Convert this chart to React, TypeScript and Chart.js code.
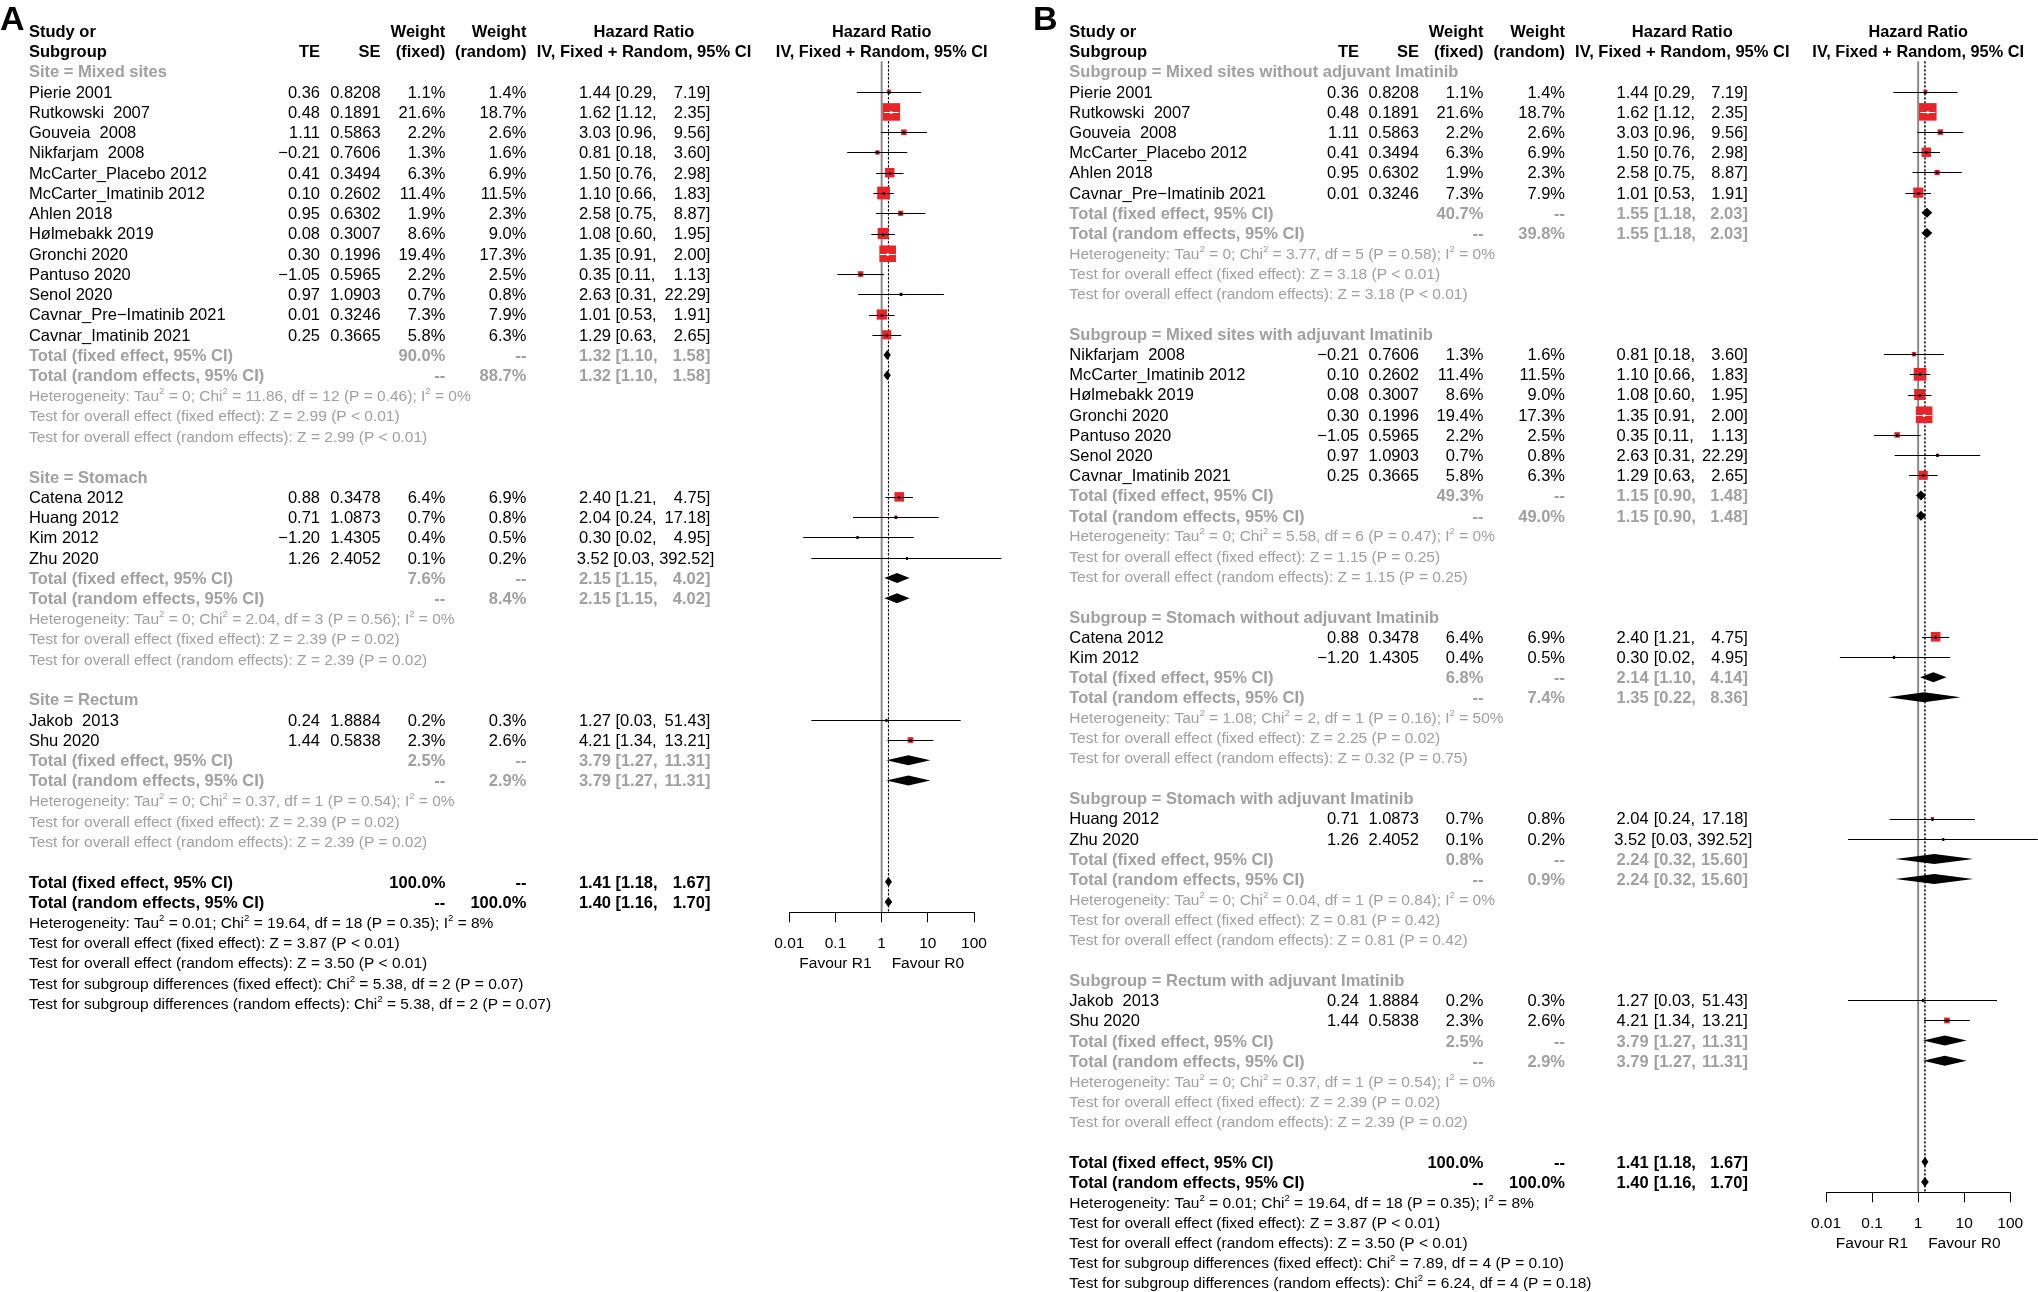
import React, { useEffect, useRef } from "react";
import { Chart, registerables } from "chart.js";

Chart.register(...registerables);

// ------------------------------------------------------------------ data
const STUDY_NAMES = [
  "Pierie 2001", "Rutkowski  2007", "Gouveia  2008", "Nikfarjam  2008",
  "McCarter_Placebo 2012", "McCarter_Imatinib 2012", "Ahlen 2018", "Hølmebakk 2019",
  "Gronchi 2020", "Pantuso 2020", "Senol 2020", "Cavnar_Pre\u2212Imatinib 2021",
  "Cavnar_Imatinib 2021", "Catena 2012", "Huang 2012", "Kim 2012", "Zhu 2020",
  "Jakob  2013", "Shu 2020",
];
const STUDY_TE = [0.36, 0.48, 1.11, -0.21, 0.41, 0.10, 0.95, 0.08, 0.30, -1.05, 0.97, 0.01, 0.25, 0.88, 0.71, -1.20, 1.26, 0.24, 1.44];
const STUDY_SE = [0.8208, 0.1891, 0.5863, 0.7606, 0.3494, 0.2602, 0.6302, 0.3007, 0.1996, 0.5965, 1.0903, 0.3246, 0.3665, 0.3478, 1.0873, 1.4305, 2.4052, 1.8884, 0.5838];
const STUDY_W_FIXED = [1.1, 21.6, 2.2, 1.3, 6.3, 11.4, 1.9, 8.6, 19.4, 2.2, 0.7, 7.3, 5.8, 6.4, 0.7, 0.4, 0.1, 0.2, 2.3];
const STUDY_W_RANDOM = [1.4, 18.7, 2.6, 1.6, 6.9, 11.5, 2.3, 9.0, 17.3, 2.5, 0.8, 7.9, 6.3, 6.9, 0.8, 0.5, 0.2, 0.3, 2.6];
const STUDY_HR = [1.44, 1.62, 3.03, 0.81, 1.50, 1.10, 2.58, 1.08, 1.35, 0.35, 2.63, 1.01, 1.29, 2.40, 2.04, 0.30, 3.52, 1.27, 4.21];
const STUDY_LO = [0.29, 1.12, 0.96, 0.18, 0.76, 0.66, 0.75, 0.60, 0.91, 0.11, 0.31, 0.53, 0.63, 1.21, 0.24, 0.02, 0.03, 0.03, 1.34];
const STUDY_HI = [7.19, 2.35, 9.56, 3.60, 2.98, 1.83, 8.87, 1.95, 2.00, 1.13, 22.29, 1.91, 2.65, 4.75, 17.18, 4.95, 392.52, 51.43, 13.21];

// Panel A subgroups (by site)
const A_LABELS = ["Site = Mixed sites", "Site = Stomach", "Site = Rectum"];
const A_MEMBERS = [[0, 1, 2, 3, 4, 5, 6, 7, 8, 9, 10, 11, 12], [13, 14, 15, 16], [17, 18]];
const A_W_FIXED = [90.0, 7.6, 2.5];
const A_W_RANDOM = [88.7, 8.4, 2.9];
const A_HR_FIXED = [1.32, 2.15, 3.79];
const A_LO_FIXED = [1.10, 1.15, 1.27];
const A_HI_FIXED = [1.58, 4.02, 11.31];
const A_HR_RANDOM = [1.32, 2.15, 3.79];
const A_LO_RANDOM = [1.10, 1.15, 1.27];
const A_HI_RANDOM = [1.58, 4.02, 11.31];
const A_HET = [
  "Tau^2 = 0; Chi^2 = 11.86, df = 12 (P = 0.46); I^2 = 0%",
  "Tau^2 = 0; Chi^2 = 2.04, df = 3 (P = 0.56); I^2 = 0%",
  "Tau^2 = 0; Chi^2 = 0.37, df = 1 (P = 0.54); I^2 = 0%",
];
const A_Z_FIXED = ["Z = 2.99 (P < 0.01)", "Z = 2.39 (P = 0.02)", "Z = 2.39 (P = 0.02)"];
const A_Z_RANDOM = ["Z = 2.99 (P < 0.01)", "Z = 2.39 (P = 0.02)", "Z = 2.39 (P = 0.02)"];
const A_SUBDIFF_FIXED = "Chi^2 = 5.38, df = 2 (P = 0.07)";
const A_SUBDIFF_RANDOM = "Chi^2 = 5.38, df = 2 (P = 0.07)";

// Panel B subgroups (site x adjuvant imatinib)
const B_LABELS = [
  "Subgroup = Mixed sites without adjuvant Imatinib",
  "Subgroup = Mixed sites with adjuvant Imatinib",
  "Subgroup = Stomach without adjuvant Imatinib",
  "Subgroup = Stomach with adjuvant Imatinib",
  "Subgroup = Rectum with adjuvant Imatinib",
];
const B_MEMBERS = [[0, 1, 2, 4, 6, 11], [3, 5, 7, 8, 9, 10, 12], [13, 15], [14, 16], [17, 18]];
const B_W_FIXED = [40.7, 49.3, 6.8, 0.8, 2.5];
const B_W_RANDOM = [39.8, 49.0, 7.4, 0.9, 2.9];
const B_HR_FIXED = [1.55, 1.15, 2.14, 2.24, 3.79];
const B_LO_FIXED = [1.18, 0.90, 1.10, 0.32, 1.27];
const B_HI_FIXED = [2.03, 1.48, 4.14, 15.60, 11.31];
const B_HR_RANDOM = [1.55, 1.15, 1.35, 2.24, 3.79];
const B_LO_RANDOM = [1.18, 0.90, 0.22, 0.32, 1.27];
const B_HI_RANDOM = [2.03, 1.48, 8.36, 15.60, 11.31];
const B_HET = [
  "Tau^2 = 0; Chi^2 = 3.77, df = 5 (P = 0.58); I^2 = 0%",
  "Tau^2 = 0; Chi^2 = 5.58, df = 6 (P = 0.47); I^2 = 0%",
  "Tau^2 = 1.08; Chi^2 = 2, df = 1 (P = 0.16); I^2 = 50%",
  "Tau^2 = 0; Chi^2 = 0.04, df = 1 (P = 0.84); I^2 = 0%",
  "Tau^2 = 0; Chi^2 = 0.37, df = 1 (P = 0.54); I^2 = 0%",
];
const B_Z_FIXED = ["Z = 3.18 (P < 0.01)", "Z = 1.15 (P = 0.25)", "Z = 2.25 (P = 0.02)", "Z = 0.81 (P = 0.42)", "Z = 2.39 (P = 0.02)"];
const B_Z_RANDOM = ["Z = 3.18 (P < 0.01)", "Z = 1.15 (P = 0.25)", "Z = 0.32 (P = 0.75)", "Z = 0.81 (P = 0.42)", "Z = 2.39 (P = 0.02)"];
const B_SUBDIFF_FIXED = "Chi^2 = 7.89, df = 4 (P = 0.10)";
const B_SUBDIFF_RANDOM = "Chi^2 = 6.24, df = 4 (P = 0.18)";

// Overall
const OVERALL_W = 100.0;
const OVERALL_HR_FIXED = 1.41;
const OVERALL_LO_FIXED = 1.18;
const OVERALL_HI_FIXED = 1.67;
const OVERALL_HR_RANDOM = 1.40;
const OVERALL_LO_RANDOM = 1.16;
const OVERALL_HI_RANDOM = 1.70;
const OVERALL_HET = "Tau^2 = 0.01; Chi^2 = 19.64, df = 18 (P = 0.35); I^2 = 8%";
const OVERALL_Z_FIXED = "Z = 3.87 (P < 0.01)";
const OVERALL_Z_RANDOM = "Z = 3.50 (P < 0.01)";

// Axis
const AXIS_TICKS = [0.01, 0.1, 1, 10, 100];
const AXIS_TICK_LABELS = ["0.01", "0.1", "1", "10", "100"];
const LABEL_LEFT = "Favour R1";
const LABEL_RIGHT = "Favour R0";

// ------------------------------------------------------------------ layout / style
const PAGE_H = 1292;
const CANVAS_W = 1019;
const FAMILY = '"Liberation Sans", Arial, Helvetica, sans-serif';
const BODY = 16.5;
const SMALL = 15.5;
const PLOT_HDR = 16.3;
const GRAY = "#a0a0a0";
const RED = "rgb(232,36,40)";
const SQ_K = 3.77;
const DIAMOND_H = 5;

type Panel = {
  letter: string; off: number; letterX: number;
  row0: number; pitch: number; axisY: number; plotL: number; plotR: number;
  cLabel: number; cTE: number; cSE: number; cWF: number; cWR: number;
  cEst: number; cLo: number; cHi: number; cHdr: number;
  labels: string[]; members: number[][];
  wF: number[]; wR: number[];
  hrF: number[]; loF: number[]; hiF: number[];
  hrR: number[]; loR: number[]; hiR: number[];
  het: string[]; zF: string[]; zR: string[];
  subF: string; subR: string;
};

const PANEL_A: Panel = {
  letter: "A", off: 0, letterX: 0,
  row0: 30.9, pitch: 20.26, axisY: 912.3, plotL: 789.3, plotR: 974.0,
  cLabel: 28.9, cTE: 320, cSE: 380.6, cWF: 445.3, cWR: 526.4,
  cEst: 611, cLo: 615.4, cHi: 710.4, cHdr: 644,
  labels: A_LABELS, members: A_MEMBERS, wF: A_W_FIXED, wR: A_W_RANDOM,
  hrF: A_HR_FIXED, loF: A_LO_FIXED, hiF: A_HI_FIXED,
  hrR: A_HR_RANDOM, loR: A_LO_RANDOM, hiR: A_HI_RANDOM,
  het: A_HET, zF: A_Z_FIXED, zR: A_Z_RANDOM, subF: A_SUBDIFF_FIXED, subR: A_SUBDIFF_RANDOM,
};

const PANEL_B: Panel = {
  letter: "B", off: 1019, letterX: 1033,
  row0: 31.1, pitch: 20.19, axisY: 1192.3, plotL: 1826.0, plotR: 2010.3,
  cLabel: 1069.3, cTE: 1359, cSE: 1418.9, cWF: 1483.4, cWR: 1565,
  cEst: 1648.6, cLo: 1653.7, cHi: 1747.9, cHdr: 1682.3,
  labels: B_LABELS, members: B_MEMBERS, wF: B_W_FIXED, wR: B_W_RANDOM,
  hrF: B_HR_FIXED, loF: B_LO_FIXED, hiF: B_HI_FIXED,
  hrR: B_HR_RANDOM, loR: B_LO_RANDOM, hiR: B_HI_RANDOM,
  het: B_HET, zF: B_Z_FIXED, zR: B_Z_RANDOM, subF: B_SUBDIFF_FIXED, subR: B_SUBDIFF_RANDOM,
};

// ------------------------------------------------------------------ helpers
const font = (size: number, bold = false) => `${bold ? "bold " : ""}${size}px ${FAMILY}`;
const f2 = (v: number) => v.toFixed(2).replace("-", "\u2212");
const f4 = (v: number) => v.toFixed(4);
const fw = (v: number) => v.toFixed(1) + "%";

type Row = { kind: string; r: number; g?: number; s?: number };

function buildRows(p: Panel): Row[] {
  const rows: Row[] = [];
  let r = 2;
  p.members.forEach((m, g) => {
    rows.push({ kind: "label", r: r++, g });
    m.forEach((s) => rows.push({ kind: "study", r: r++, s }));
    rows.push({ kind: "totF", r: r++, g });
    rows.push({ kind: "totR", r: r++, g });
    rows.push({ kind: "het", r: r++, g });
    rows.push({ kind: "zF", r: r++, g });
    rows.push({ kind: "zR", r: r++, g });
    r++;
  });
  ["oF", "oR", "oHet", "oZF", "oZR", "subF", "subR"].forEach((k) => rows.push({ kind: k, r: r++ }));
  return rows;
}

function txt(ctx: CanvasRenderingContext2D, s: string, x: number, y: number, align: CanvasTextAlign, size: number, bold: boolean, color: string) {
  ctx.font = font(size, bold);
  ctx.fillStyle = color;
  ctx.textAlign = align;
  ctx.textBaseline = "alphabetic";
  ctx.fillText(s, x, y + size * 0.358);
}

function rich(ctx: CanvasRenderingContext2D, s: string, x: number, y: number, size: number, color: string) {
  const parts = s.split("^2");
  let cx = x;
  const base = y + size * 0.358;
  ctx.fillStyle = color;
  ctx.textAlign = "left";
  ctx.textBaseline = "alphabetic";
  parts.forEach((p, i) => {
    ctx.font = font(size);
    ctx.fillText(p, cx, base);
    cx += ctx.measureText(p).width;
    if (i < parts.length - 1) {
      ctx.font = font(size * 0.62);
      ctx.fillText("2", cx, base - size * 0.45);
      cx += ctx.measureText("2").width;
    }
  });
}

function makeChart(canvas: HTMLCanvasElement, p: Panel) {
  const rows = buildRows(p);
  const studyRows = rows.filter((r) => r.kind === "study");
  const X_AXIS_H = 60;

  const forest = {
    id: "forest",
    beforeDatasetsDraw(chart: any) {
      const ctx: CanvasRenderingContext2D = chart.ctx;
      const x = chart.scales.x, y = chart.scales.y;
      const top = y.getPixelForValue(1.5);
      const bot = y.getPixelForValue(y.max);
      ctx.save();
      ctx.strokeStyle = "#8a8a8a";
      ctx.lineWidth = 2;
      ctx.beginPath();
      const x1 = x.getPixelForValue(1);
      ctx.moveTo(x1, top);
      ctx.lineTo(x1, bot);
      ctx.stroke();
      ctx.strokeStyle = "#000";
      ctx.lineWidth = 1;
      ctx.setLineDash([2, 2]);
      [OVERALL_HR_FIXED, OVERALL_HR_RANDOM].forEach((v) => {
        const xv = x.getPixelForValue(v);
        ctx.beginPath();
        ctx.moveTo(xv, top);
        ctx.lineTo(xv, bot);
        ctx.stroke();
      });
      ctx.restore();
    },
    afterDatasetsDraw(chart: any) {
      const ctx: CanvasRenderingContext2D = chart.ctx;
      const x = chart.scales.x, y = chart.scales.y;
      ctx.save();
      studyRows.forEach(({ r, s }: any) => {
        const yy = Math.round(y.getPixelForValue(r)) + 0.5;
        const xl = x.getPixelForValue(STUDY_LO[s]);
        const xh = x.getPixelForValue(STUDY_HI[s]);
        const xe = x.getPixelForValue(STUDY_HR[s]);
        const side = SQ_K * Math.sqrt(STUDY_W_FIXED[s]);
        const inside = xh - xl <= side;
        const col = inside ? "#fff" : "#000";
        ctx.strokeStyle = col;
        ctx.lineWidth = 1;
        ctx.beginPath();
        ctx.moveTo(xl, yy);
        ctx.lineTo(xh, yy);
        ctx.stroke();
        ctx.fillStyle = col;
        ctx.fillRect(xe - 1, yy - 1.5, 2, 3);
      });
      const diamond = (r: number, est: number, lo: number, hi: number) => {
        const yy = y.getPixelForValue(r);
        ctx.fillStyle = "#000";
        ctx.beginPath();
        ctx.moveTo(x.getPixelForValue(lo), yy);
        ctx.lineTo(x.getPixelForValue(est), yy - DIAMOND_H);
        ctx.lineTo(x.getPixelForValue(hi), yy);
        ctx.lineTo(x.getPixelForValue(est), yy + DIAMOND_H);
        ctx.closePath();
        ctx.fill();
      };
      rows.forEach((row: any) => {
        if (row.kind === "totF") diamond(row.r, p.hrF[row.g], p.loF[row.g], p.hiF[row.g]);
        if (row.kind === "totR") diamond(row.r, p.hrR[row.g], p.loR[row.g], p.hiR[row.g]);
        if (row.kind === "oF") diamond(row.r, OVERALL_HR_FIXED, OVERALL_LO_FIXED, OVERALL_HI_FIXED);
        if (row.kind === "oR") diamond(row.r, OVERALL_HR_RANDOM, OVERALL_LO_RANDOM, OVERALL_HI_RANDOM);
      });
      ctx.restore();
    },
    afterDraw(chart: any) {
      const ctx: CanvasRenderingContext2D = chart.ctx;
      const x = chart.scales.x, y = chart.scales.y;
      const o = p.off;
      const ry = (r: number) => y.getPixelForValue(r);
      ctx.save();
      ctx.font = font(34, true);
      ctx.fillStyle = "#000";
      ctx.textAlign = "left";
      ctx.textBaseline = "alphabetic";
      ctx.fillText(p.letter, p.letterX - o, 30);

      const h0 = ry(0), h1 = ry(1);
      txt(ctx, "Study or", p.cLabel - o, h0, "left", BODY, true, "#000");
      txt(ctx, "Subgroup", p.cLabel - o, h1, "left", BODY, true, "#000");
      txt(ctx, "TE", p.cTE - o, h1, "right", BODY, true, "#000");
      txt(ctx, "SE", p.cSE - o, h1, "right", BODY, true, "#000");
      txt(ctx, "Weight", p.cWF - o, h0, "right", BODY, true, "#000");
      txt(ctx, "(fixed)", p.cWF - o, h1, "right", BODY, true, "#000");
      txt(ctx, "Weight", p.cWR - o, h0, "right", BODY, true, "#000");
      txt(ctx, "(random)", p.cWR - o, h1, "right", BODY, true, "#000");
      txt(ctx, "Hazard Ratio", p.cHdr - o, h0, "center", BODY, true, "#000");
      txt(ctx, "IV, Fixed + Random, 95% CI", p.cHdr - o, h1, "center", BODY, true, "#000");
      const xc = x.getPixelForValue(1);
      txt(ctx, "Hazard Ratio", xc, h0, "center", PLOT_HDR, true, "#000");
      txt(ctx, "IV, Fixed + Random, 95% CI", xc, h1, "center", PLOT_HDR, true, "#000");

      const ci = (yy: number, est: number, lo: number, hi: number, bold: boolean, color: string) => {
        ctx.font = font(BODY, bold);
        const loS = "[" + f2(lo) + ",";
        const hiS = f2(hi) + "]";
        const loEnd = p.cLo - o + ctx.measureText(loS).width;
        const hiStart = p.cHi - o - ctx.measureText(hiS).width;
        const gap = ctx.measureText(" ").width;
        const over = Math.max(0, loEnd + gap - hiStart);
        txt(ctx, f2(est), p.cEst - o - over * 0.35, yy, "right", BODY, bold, color);
        txt(ctx, loS, p.cLo - o - over * 0.35, yy, "left", BODY, bold, color);
        txt(ctx, hiS, p.cHi - o + over * 0.65, yy, "right", BODY, bold, color);
      };

      rows.forEach((row: any) => {
        const yy = ry(row.r);
        const g = row.g;
        const L = p.cLabel - o;
        switch (row.kind) {
          case "label":
            txt(ctx, p.labels[g], L, yy, "left", BODY, true, GRAY);
            break;
          case "study": {
            const s = row.s;
            txt(ctx, STUDY_NAMES[s], L, yy, "left", BODY, false, "#000");
            txt(ctx, f2(STUDY_TE[s]), p.cTE - o, yy, "right", BODY, false, "#000");
            txt(ctx, f4(STUDY_SE[s]), p.cSE - o, yy, "right", BODY, false, "#000");
            txt(ctx, fw(STUDY_W_FIXED[s]), p.cWF - o, yy, "right", BODY, false, "#000");
            txt(ctx, fw(STUDY_W_RANDOM[s]), p.cWR - o, yy, "right", BODY, false, "#000");
            ci(yy, STUDY_HR[s], STUDY_LO[s], STUDY_HI[s], false, "#000");
            break;
          }
          case "totF":
            txt(ctx, "Total (fixed effect, 95% CI)", L, yy, "left", BODY, true, GRAY);
            txt(ctx, fw(p.wF[g]), p.cWF - o, yy, "right", BODY, true, GRAY);
            txt(ctx, "--", p.cWR - o, yy, "right", BODY, true, GRAY);
            ci(yy, p.hrF[g], p.loF[g], p.hiF[g], true, GRAY);
            break;
          case "totR":
            txt(ctx, "Total (random effects, 95% CI)", L, yy, "left", BODY, true, GRAY);
            txt(ctx, "--", p.cWF - o, yy, "right", BODY, true, GRAY);
            txt(ctx, fw(p.wR[g]), p.cWR - o, yy, "right", BODY, true, GRAY);
            ci(yy, p.hrR[g], p.loR[g], p.hiR[g], true, GRAY);
            break;
          case "het":
            rich(ctx, "Heterogeneity: " + p.het[g], L, yy, SMALL, GRAY);
            break;
          case "zF":
            rich(ctx, "Test for overall effect (fixed effect): " + p.zF[g], L, yy, SMALL, GRAY);
            break;
          case "zR":
            rich(ctx, "Test for overall effect (random effects): " + p.zR[g], L, yy, SMALL, GRAY);
            break;
          case "oF":
            txt(ctx, "Total (fixed effect, 95% CI)", L, yy, "left", BODY, true, "#000");
            txt(ctx, fw(OVERALL_W), p.cWF - o, yy, "right", BODY, true, "#000");
            txt(ctx, "--", p.cWR - o, yy, "right", BODY, true, "#000");
            ci(yy, OVERALL_HR_FIXED, OVERALL_LO_FIXED, OVERALL_HI_FIXED, true, "#000");
            break;
          case "oR":
            txt(ctx, "Total (random effects, 95% CI)", L, yy, "left", BODY, true, "#000");
            txt(ctx, "--", p.cWF - o, yy, "right", BODY, true, "#000");
            txt(ctx, fw(OVERALL_W), p.cWR - o, yy, "right", BODY, true, "#000");
            ci(yy, OVERALL_HR_RANDOM, OVERALL_LO_RANDOM, OVERALL_HI_RANDOM, true, "#000");
            break;
          case "oHet":
            rich(ctx, "Heterogeneity: " + OVERALL_HET, L, yy, SMALL, "#000");
            break;
          case "oZF":
            rich(ctx, "Test for overall effect (fixed effect): " + OVERALL_Z_FIXED, L, yy, SMALL, "#000");
            break;
          case "oZR":
            rich(ctx, "Test for overall effect (random effects): " + OVERALL_Z_RANDOM, L, yy, SMALL, "#000");
            break;
          case "subF":
            rich(ctx, "Test for subgroup differences (fixed effect): " + p.subF, L, yy, SMALL, "#000");
            break;
          case "subR":
            rich(ctx, "Test for subgroup differences (random effects): " + p.subR, L, yy, SMALL, "#000");
            break;
        }
      });

      const fy = p.axisY + 50;
      txt(ctx, LABEL_LEFT, xc - 10, fy, "right", SMALL, false, "#000");
      txt(ctx, LABEL_RIGHT, xc + 10, fy, "left", SMALL, false, "#000");
      ctx.restore();
    },
  };

  const points = studyRows.map(({ r, s }: any) => ({ x: STUDY_HR[s], y: r }));
  const radii = studyRows.map(({ s }: any) => (SQ_K * Math.sqrt(STUDY_W_FIXED[s])) / (2 * Math.SQRT1_2));

  return new Chart(canvas, {
    type: "scatter",
    data: {
      datasets: [
        {
          data: points,
          pointStyle: "rect",
          pointRadius: radii,
          pointHoverRadius: radii,
          backgroundColor: RED,
          borderWidth: 0,
          clip: false,
        } as any,
      ],
    },
    options: {
      animation: false,
      responsive: false,
      maintainAspectRatio: false,
      devicePixelRatio: 1,
      events: [],
      layout: {
        autoPadding: false,
        padding: {
          left: p.plotL - p.off,
          right: CANVAS_W - (p.plotR - p.off),
          top: 0,
          bottom: PAGE_H - p.axisY - X_AXIS_H,
        },
      },
      plugins: { legend: { display: false }, tooltip: { enabled: false }, title: { display: false } },
      scales: {
        x: {
          type: "logarithmic",
          min: AXIS_TICKS[0],
          max: AXIS_TICKS[AXIS_TICKS.length - 1],
          position: "bottom",
          afterBuildTicks: (s: any) => {
            s.ticks = AXIS_TICKS.map((v) => ({ value: v }));
          },
          afterFit: (s: any) => {
            s.height = X_AXIS_H;
          },
          ticks: {
            callback: (_v: any, i: number) => AXIS_TICK_LABELS[i],
            color: "#000",
            font: { family: FAMILY, size: SMALL },
            padding: 12,
            maxRotation: 0,
            autoSkip: false,
          },
          grid: { drawOnChartArea: false, drawTicks: true, tickLength: 10, color: "#000", lineWidth: 1 },
          border: { display: true, color: "#000", width: 1 },
        } as any,
        y: {
          type: "linear",
          display: false,
          reverse: true,
          min: -p.row0 / p.pitch,
          max: (p.axisY - p.row0) / p.pitch,
        },
      },
    } as any,
    plugins: [forest],
  });
}

export default function App() {
  const refA = useRef<HTMLCanvasElement>(null);
  const refB = useRef<HTMLCanvasElement>(null);
  useEffect(() => {
    const a = makeChart(refA.current!, PANEL_A);
    const b = makeChart(refB.current!, PANEL_B);
    return () => {
      a.destroy();
      b.destroy();
    };
  }, []);
  const cs: React.CSSProperties = { position: "absolute", top: 0, width: CANVAS_W, height: PAGE_H };
  return (
    <div style={{ position: "absolute", left: 0, top: 0, width: 2038, height: PAGE_H, background: "#fff" }}>
      <canvas ref={refA} width={CANVAS_W} height={PAGE_H} style={{ ...cs, left: 0 }} />
      <canvas ref={refB} width={CANVAS_W} height={PAGE_H} style={{ ...cs, left: CANVAS_W }} />
    </div>
  );
}
